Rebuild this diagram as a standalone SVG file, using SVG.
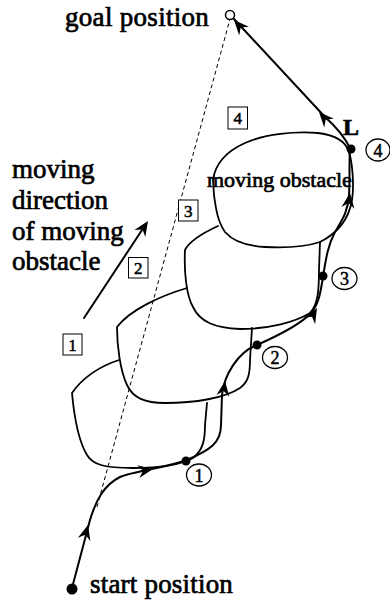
<svg xmlns="http://www.w3.org/2000/svg" width="390" height="600" viewBox="0 0 390 600">
<style>
text{font-family:"Liberation Serif","Times New Roman",serif;fill:#000}
.t{stroke:#000;stroke-width:0.7}
.ob{fill:none;stroke:#000;stroke-width:1.8;stroke-linecap:round;stroke-linejoin:round}
.pa{fill:none;stroke:#000;stroke-width:2;stroke-linecap:round;stroke-linejoin:round}
.box{fill:#fff;stroke:#000;stroke-width:1}
.cir{fill:#fff;stroke:#000;stroke-width:1.3}
.num{text-anchor:middle;stroke:#000;stroke-width:0.5}
</style>
<defs>
<path id="ah" d="M0,0 L-15,-6.5 L-10,0 L-15,6.5 Z" fill="#000"/>
</defs>
<rect width="390" height="600" fill="#fff"/>

<g id="obstacles">
<path id="ob1" class="ob" d="M119,360 C100,366 82,378 72,393 C74,415 78,440 87,455 C93,465 105,468 133,468 C160,468 180,465 193,458 C203,450 205,440 205,425 L207,403"/>
<path id="ob2" class="ob" d="M187,288 C160,296 130,310 117,327 C117,345 120,370 127,385 C133,398 145,403 165,403 C195,403 225,398 240,388 C248,382 250,375 250,360 L252,328"/>
<path id="ob3" class="ob" d="M218,226 C205,232 190,240 185,250 C184,270 186,295 193,307 C200,322 215,328 240,329 C270,329 295,322 310,313 C318,305 319,290 319,270 L320,242"/>
<path id="ob4" class="ob" d="M213,180 C215,165 225,152 245,143 C265,134 295,131 318,133 C335,135 346,142 349,152 C353,165 354,188 352,200 C349,218 340,232 320,242 C305,247 285,248 265,247 C245,246 232,240 225,232 C218,222 216,210 214,195 Z"/>
</g>

<g id="connectors">
<line x1="97" y1="507" x2="230" y2="19" stroke="#000" stroke-width="1" stroke-dasharray="4,3"/>
<path class="pa" d="M72,588 L90,520 C96,500 104,485 120,477 C135,471 165,468 187,460"/>
<path class="pa" d="M187,460 C210,450 221,443 221,425 L222,395 C224,375 238,352 257,345"/>
<path class="pa" d="M257,345 C275,337 300,325 311,313 C318,305 320,295 322,283 L323,277"/>
<path class="pa" d="M323,277 C326,258 328,245 335,232 C342,220 348,212 349,195 C350,180 349,165 350,148"/>
<path class="pa" d="M350,148 Q342,132 325,117 L234,19"/>
<line class="pa" x1="84" y1="318" x2="142" y2="230"/>
<use href="#ah" transform="translate(88,525) rotate(-75)"/>
<use href="#ah" transform="translate(153,469) rotate(-10)"/>
<use href="#ah" transform="translate(225,381) rotate(-82)"/>
<use href="#ah" transform="translate(317,308) rotate(-60)"/>
<use href="#ah" transform="translate(350,193) rotate(-82)"/>
<use href="#ah" transform="translate(319,112) rotate(-132)"/>
<use href="#ah" transform="translate(234,20) rotate(-132)"/>
<use href="#ah" transform="translate(148,221) rotate(-57)"/>
</g>

<g id="goal">
<circle cx="230" cy="15" r="4.5" fill="#fff" stroke="#000" stroke-width="1.5"/>
<text class="t" x="65" y="26" font-size="27" letter-spacing="0.3">goal position</text>
</g>
<g id="start">
<circle cx="72" cy="589" r="5.5" fill="#000"/>
<text class="t" x="90" y="593" font-size="27" letter-spacing="0.2">start position</text>
</g>
<g id="direction-label">
<text class="t" x="12" y="178" font-size="27">moving</text>
<text class="t" x="12" y="209" font-size="27">direction</text>
<text class="t" x="12" y="240" font-size="27">of moving</text>
<text class="t" x="12" y="270" font-size="27">obstacle</text>
</g>
<g id="obstacle-label">
<text class="t" x="207" y="187" font-size="22">moving obstacle</text>
</g>
<g id="L-label">
<text class="t" x="343" y="135" font-size="24" font-weight="bold">L</text>
</g>

<g id="p1"><circle cx="186" cy="461" r="4.5" fill="#000"/><ellipse class="cir" cx="199" cy="475" rx="12.5" ry="11"/><text class="num" x="199" y="481.5" font-size="18">1</text></g>
<g id="p2"><circle cx="257" cy="345" r="4.5" fill="#000"/><ellipse class="cir" cx="275" cy="357.5" rx="12.5" ry="11"/><text class="num" x="275" y="364" font-size="18">2</text></g>
<g id="p3"><circle cx="323" cy="276" r="4.5" fill="#000"/><ellipse class="cir" cx="344.5" cy="278.5" rx="12.5" ry="11"/><text class="num" x="344.5" y="285" font-size="18">3</text></g>
<g id="p4"><circle cx="351" cy="149" r="4.5" fill="#000"/><ellipse class="cir" cx="378" cy="150" rx="12" ry="11"/><text class="num" x="378" y="156.5" font-size="18">4</text></g>

<g id="b1"><rect class="box" x="63" y="334" width="19" height="21"/><text class="num" x="72.5" y="351" font-size="17">1</text></g>
<g id="b2"><rect class="box" x="128.5" y="257.5" width="19.5" height="20.5"/><text class="num" x="138.2" y="274" font-size="17">2</text></g>
<g id="b3"><rect class="box" x="178.5" y="200" width="19.5" height="21"/><text class="num" x="188.2" y="216.5" font-size="17">3</text></g>
<g id="b4"><rect class="box" x="228" y="107" width="19.5" height="22"/><text class="num" x="237.7" y="124" font-size="17">4</text></g>
</svg>
